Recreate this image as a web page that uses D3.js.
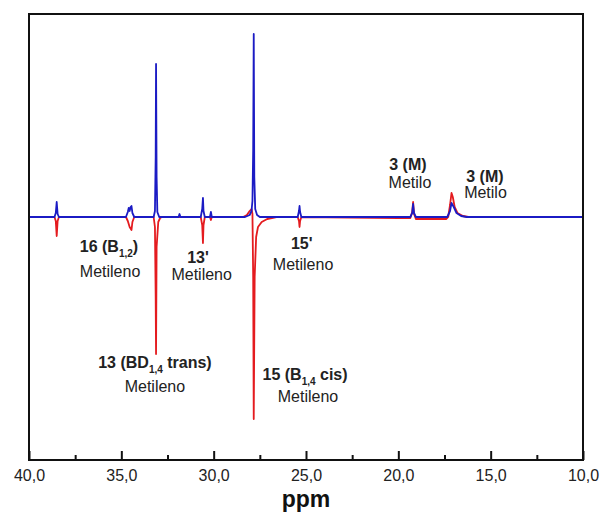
<!DOCTYPE html>
<html>
<head>
<meta charset="utf-8">
<script src="https://cdn.jsdelivr.net/npm/d3@7"></script>
<style>
  html, body { margin: 0; padding: 0; background: #fff; }
  svg { display: block; font-family: "Liberation Sans", Arial, sans-serif; }
</style>
</head>
<body>
<svg id="chart" width="600" height="517"></svg>
<script>
// ---- data (ppm, intensity in arbitrary units; 0 = baseline) ----
const blueSpectrum = [
  [40.0, 0], [38.62, 0], [38.55, 4], [38.5, 15], [38.45, 3], [38.38, 0],
  [34.75, 0], [34.65, 5], [34.6, 9], [34.55, 6], [34.5, 10], [34.45, 11], [34.4, 4], [34.3, 0],
  [33.25, 0], [33.18, 6], [33.14, 60], [33.12, 153], [33.09, 40], [33.05, 5], [32.95, 0],
  [31.9, 0], [31.85, 3], [31.8, 0],
  [30.7, 0], [30.62, 8], [30.58, 19], [30.55, 6], [30.48, 0],
  [30.2, 0], [30.15, 5], [30.1, 0],
  [28.3, 0], [28.05, 2], [27.95, 6], [27.9, 16], [27.86, 67], [27.83, 183], [27.8, 40], [27.75, 8], [27.65, 2], [27.5, 0],
  [25.45, 0], [25.38, 6], [25.35, 11], [25.32, 5], [25.25, 0],
  [19.35, 0], [19.25, 4], [19.2, 13], [19.15, 4], [19.05, 0],
  [17.35, 0], [17.2, 6], [17.12, 14], [17.0, 10], [16.85, 4], [16.6, 1], [16.3, 0],
  [10.0, 0]
];
const redSpectrum = [
  [40.0, 0], [38.62, 0], [38.55, -4], [38.5, -19], [38.45, -4], [38.38, 0],
  [34.75, 0], [34.65, -4], [34.55, -10], [34.45, -13], [34.4, -5], [34.3, 0],
  [33.25, 0], [33.18, -10], [33.14, -80], [33.12, -137], [33.09, -30], [33.0, -5], [32.9, -1], [32.8, 0],
  [30.7, 0], [30.62, -8], [30.58, -26], [30.55, -8], [30.48, 0],
  [30.2, 0], [30.15, -3], [30.1, 0],
  [28.4, 0], [28.2, 2], [28.05, 6], [27.95, 8], [27.9, 3], [27.86, -60], [27.83, -202], [27.78, -60],
  [27.7, -20], [27.6, -10], [27.4, -5], [27.1, -2], [26.6, 0],
  [25.45, 0], [25.38, -4], [25.35, -10], [25.32, -4], [25.25, 0],
  [20.0, -1], [19.35, -1], [19.25, 5], [19.2, 15], [19.15, 3], [19.05, -2],
  [17.4, -2], [17.3, 0], [17.2, 12], [17.12, 24], [17.05, 20], [16.95, 10], [16.8, 4], [16.5, 1], [16.2, 0],
  [10.0, 0]
];
const majorTicks = [40, 35, 30, 25, 20, 15, 10];
const minorTicks = [37.5, 32.5, 27.5, 22.5, 17.5, 12.5];
const xTitle = "ppm";
// annotation labels anchored in data units (ppm, intensity)
const annotations = [
  { main: [["16 (B", false], ["1,2", true], [")", false]], sub: "Metileno", x1: 35.67, y1: -34.7, x2: 35.61, y2: -59.7 },
  { main: [["13'", false]], sub: "Metileno", x1: 30.85, y1: -45.7, x2: 30.65, y2: -63 },
  { main: [["15'", false]], sub: "Metileno", x1: 25.23, y1: -32, x2: 25.16, y2: -53 },
  { main: [["13 (BD", false], ["1,4", true], [" trans)", false]], sub: "Metileno", x1: 33.18, y1: -151.3, x2: 33.18, y2: -174.7 },
  { main: [["15 (B", false], ["1,4", true], [" cis)", false]], sub: "Metileno", x1: 25.05, y1: -163, x2: 24.89, y2: -184.7 },
  { main: [["3 (M)", false]], sub: "Metilo", x1: 19.48, y1: 47, x2: 19.37, y2: 29 },
  { main: [["3 (M)", false]], sub: "Metilo", x1: 15.31, y1: 35.3, x2: 15.28, y2: 19 }
];

// ---- layout ----
const svg = d3.select("#chart");
const mLeft = 29, mRight = 583, mTop = 14, mBottom = 460;

const x = d3.scaleLinear().domain([40, 10]).range([mLeft, mRight]);
const y = d3.scaleLinear().domain([-243, 203]).range([mBottom, mTop]);

const locale = d3.formatLocale({ decimal: ",", thousands: ".", grouping: [3], currency: ["", ""] });
const fmt = locale.format(".1f");

const line = d3.line().x(d => x(d[0])).y(d => y(d[1]));

svg.append("path").datum(redSpectrum)
  .attr("d", line).attr("fill", "none")
  .attr("stroke", "#e41b1f").attr("stroke-width", 1.8).attr("stroke-linejoin", "round");
svg.append("path").datum(blueSpectrum)
  .attr("d", line).attr("fill", "none")
  .attr("stroke", "#1b1bc4").attr("stroke-width", 1.8).attr("stroke-linejoin", "round");

// frame
svg.append("rect")
  .attr("x", mLeft).attr("y", mTop)
  .attr("width", mRight - mLeft).attr("height", mBottom - mTop)
  .attr("fill", "none").attr("stroke", "#111").attr("stroke-width", 2);

// axes
const axMajor = svg.append("g").attr("transform", `translate(0,${mBottom})`)
  .call(d3.axisBottom(x).tickValues(majorTicks).tickSize(-9).tickPadding(10).tickFormat(fmt));
axMajor.select(".domain").remove();
axMajor.selectAll(".tick line").attr("stroke", "#111").attr("stroke-width", 2);
axMajor.selectAll(".tick text")
  .attr("fill", "#222").style("font-size", "16px")
  .style("font-family", '"Liberation Sans", Arial, sans-serif');

const axMinor = svg.append("g").attr("transform", `translate(0,${mBottom})`)
  .call(d3.axisBottom(x).tickValues(minorTicks).tickSize(-5).tickFormat(""));
axMinor.select(".domain").remove();
axMinor.selectAll(".tick line").attr("stroke", "#111").attr("stroke-width", 2);

svg.append("text")
  .attr("x", (mLeft + mRight) / 2).attr("y", 507)
  .attr("text-anchor", "middle")
  .style("font-size", "23px").style("font-weight", "bold")
  .attr("fill", "#111")
  .text(xTitle);

// annotations
annotations.forEach(a => {
  const t = svg.append("text")
    .attr("x", x(a.x1)).attr("y", y(a.y1))
    .attr("text-anchor", "middle")
    .style("font-size", "16px").style("font-weight", "bold")
    .attr("fill", "#222");
  let shifted = false;
  a.main.forEach(([s, isSub]) => {
    const ts = t.append("tspan").text(s);
    if (isSub) {
      ts.style("font-size", "10px").attr("dy", 5);
      shifted = true;
    } else if (shifted) {
      ts.attr("dy", -5);
      shifted = false;
    }
  });
  svg.append("text")
    .attr("x", x(a.x2)).attr("y", y(a.y2))
    .attr("text-anchor", "middle")
    .style("font-size", "16px")
    .attr("fill", "#222")
    .text(a.sub);
});
</script>
</body>
</html>
